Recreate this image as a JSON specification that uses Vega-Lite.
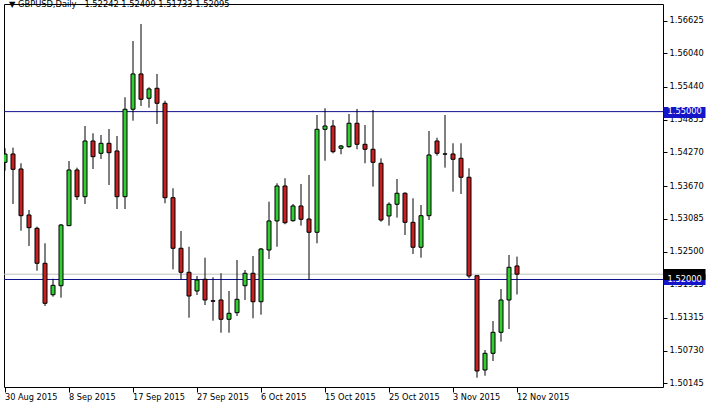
{
  "$schema": "https://vega.github.io/schema/vega-lite/v6.json",
  "autosize": "none",
  "padding": {"left": 4, "top": 4, "right": 45, "bottom": 20},
  "width": 659,
  "height": 383,
  "background": "white",
  "config": {"view": {"stroke": "black", "strokeWidth": 1}, "font": "DejaVu Sans"},
  "title": {
    "text": "▼ GBPUSD,Daily\u00a0\u00a0 1.52242 1.52409 1.51733 1.52095",
    "anchor": "start", "frame": "group", "orient": "top", "offset": 0,
    "baseline": "middle", "dy": 9, "dx": 5,
    "font": "DejaVu Sans", "fontSize": 8.3, "fontWeight": "normal", "color": "black"
  },
  "datasets": {
    "candles": [
      {"date": "2015-08-30", "open": 1.54094, "high": 1.54345, "low": 1.53944, "close": 1.54243},
      {"date": "2015-08-31", "open": 1.54243, "high": 1.54356, "low": 1.53349, "close": 1.53969},
      {"date": "2015-09-01", "open": 1.53975, "high": 1.54077, "low": 1.52872, "close": 1.53140},
      {"date": "2015-09-02", "open": 1.53153, "high": 1.53242, "low": 1.52599, "close": 1.52926},
      {"date": "2015-09-03", "open": 1.52915, "high": 1.52944, "low": 1.52157, "close": 1.52290},
      {"date": "2015-09-04", "open": 1.52290, "high": 1.52647, "low": 1.51527, "close": 1.51575},
      {"date": "2015-09-06", "open": 1.51728, "high": 1.52014, "low": 1.51693, "close": 1.51896},
      {"date": "2015-09-07", "open": 1.51889, "high": 1.52992, "low": 1.51675, "close": 1.52974},
      {"date": "2015-09-08", "open": 1.52962, "high": 1.54118, "low": 1.52955, "close": 1.53957},
      {"date": "2015-09-09", "open": 1.53957, "high": 1.53998, "low": 1.53421, "close": 1.53480},
      {"date": "2015-09-10", "open": 1.53480, "high": 1.54743, "low": 1.53349, "close": 1.54475},
      {"date": "2015-09-11", "open": 1.54475, "high": 1.54613, "low": 1.53975, "close": 1.54195},
      {"date": "2015-09-13", "open": 1.54255, "high": 1.54582, "low": 1.54154, "close": 1.54434},
      {"date": "2015-09-14", "open": 1.54434, "high": 1.54690, "low": 1.53689, "close": 1.54266},
      {"date": "2015-09-15", "open": 1.54297, "high": 1.54565, "low": 1.53260, "close": 1.53480},
      {"date": "2015-09-16", "open": 1.53480, "high": 1.55256, "low": 1.53260, "close": 1.55042},
      {"date": "2015-09-17", "open": 1.55042, "high": 1.56262, "low": 1.54838, "close": 1.55673},
      {"date": "2015-09-18", "open": 1.55673, "high": 1.56566, "low": 1.55101, "close": 1.55220},
      {"date": "2015-09-20", "open": 1.55238, "high": 1.55435, "low": 1.55070, "close": 1.55405},
      {"date": "2015-09-21", "open": 1.55417, "high": 1.55673, "low": 1.54779, "close": 1.55149},
      {"date": "2015-09-22", "open": 1.55149, "high": 1.55195, "low": 1.53362, "close": 1.53462},
      {"date": "2015-09-23", "open": 1.53462, "high": 1.53630, "low": 1.52182, "close": 1.52558},
      {"date": "2015-09-24", "open": 1.52558, "high": 1.52867, "low": 1.52000, "close": 1.52129},
      {"date": "2015-09-25", "open": 1.52129, "high": 1.52586, "low": 1.51317, "close": 1.51705},
      {"date": "2015-09-27", "open": 1.51795, "high": 1.52063, "low": 1.51723, "close": 1.51991},
      {"date": "2015-09-28", "open": 1.52004, "high": 1.52390, "low": 1.51544, "close": 1.51634},
      {"date": "2015-09-29", "open": 1.51620, "high": 1.52039, "low": 1.51264, "close": 1.51612},
      {"date": "2015-09-30", "open": 1.51634, "high": 1.52111, "low": 1.51049, "close": 1.51289},
      {"date": "2015-10-01", "open": 1.51289, "high": 1.51795, "low": 1.51049, "close": 1.51396},
      {"date": "2015-10-02", "open": 1.51407, "high": 1.52349, "low": 1.51348, "close": 1.51646},
      {"date": "2015-10-04", "open": 1.51889, "high": 1.52170, "low": 1.51634, "close": 1.52111},
      {"date": "2015-10-05", "open": 1.52111, "high": 1.52420, "low": 1.51307, "close": 1.51603},
      {"date": "2015-10-06", "open": 1.51603, "high": 1.52563, "low": 1.51371, "close": 1.52545},
      {"date": "2015-10-07", "open": 1.52527, "high": 1.53390, "low": 1.52366, "close": 1.53046},
      {"date": "2015-10-08", "open": 1.53046, "high": 1.53719, "low": 1.52586, "close": 1.53671},
      {"date": "2015-10-09", "open": 1.53671, "high": 1.53809, "low": 1.52987, "close": 1.53015},
      {"date": "2015-10-11", "open": 1.53051, "high": 1.53349, "low": 1.53033, "close": 1.53314},
      {"date": "2015-10-12", "open": 1.53314, "high": 1.53707, "low": 1.52962, "close": 1.53076},
      {"date": "2015-10-13", "open": 1.53081, "high": 1.53868, "low": 1.51991, "close": 1.52844},
      {"date": "2015-10-14", "open": 1.52844, "high": 1.54940, "low": 1.52647, "close": 1.54684},
      {"date": "2015-10-15", "open": 1.54684, "high": 1.55060, "low": 1.54123, "close": 1.54743},
      {"date": "2015-10-16", "open": 1.54743, "high": 1.54851, "low": 1.54255, "close": 1.54284},
      {"date": "2015-10-18", "open": 1.54345, "high": 1.54404, "low": 1.54238, "close": 1.54386},
      {"date": "2015-10-19", "open": 1.54373, "high": 1.54958, "low": 1.54356, "close": 1.54792},
      {"date": "2015-10-20", "open": 1.54792, "high": 1.55047, "low": 1.54327, "close": 1.54416},
      {"date": "2015-10-21", "open": 1.54416, "high": 1.54761, "low": 1.54077, "close": 1.54327},
      {"date": "2015-10-22", "open": 1.54327, "high": 1.55029, "low": 1.53659, "close": 1.54094},
      {"date": "2015-10-23", "open": 1.54077, "high": 1.54166, "low": 1.53033, "close": 1.53063},
      {"date": "2015-10-25", "open": 1.53135, "high": 1.53380, "low": 1.52962, "close": 1.53344},
      {"date": "2015-10-26", "open": 1.53344, "high": 1.53796, "low": 1.53105, "close": 1.53541},
      {"date": "2015-10-27", "open": 1.53541, "high": 1.53558, "low": 1.52795, "close": 1.53022},
      {"date": "2015-10-28", "open": 1.53022, "high": 1.53451, "low": 1.52456, "close": 1.52576},
      {"date": "2015-10-29", "open": 1.52576, "high": 1.53331, "low": 1.52390, "close": 1.53140},
      {"date": "2015-10-30", "open": 1.53140, "high": 1.54654, "low": 1.53063, "close": 1.54225},
      {"date": "2015-11-01", "open": 1.54475, "high": 1.54534, "low": 1.54213, "close": 1.54255},
      {"date": "2015-11-02", "open": 1.54245, "high": 1.54940, "low": 1.53998, "close": 1.54240},
      {"date": "2015-11-03", "open": 1.54243, "high": 1.54434, "low": 1.53569, "close": 1.54148},
      {"date": "2015-11-04", "open": 1.54166, "high": 1.54434, "low": 1.53528, "close": 1.53827},
      {"date": "2015-11-05", "open": 1.53827, "high": 1.53987, "low": 1.52022, "close": 1.52063},
      {"date": "2015-11-06", "open": 1.52068, "high": 1.52075, "low": 1.50245, "close": 1.50365},
      {"date": "2015-11-08", "open": 1.50383, "high": 1.50740, "low": 1.50281, "close": 1.50681},
      {"date": "2015-11-09", "open": 1.50681, "high": 1.51258, "low": 1.50544, "close": 1.51056},
      {"date": "2015-11-10", "open": 1.51056, "high": 1.51830, "low": 1.50889, "close": 1.51634},
      {"date": "2015-11-11", "open": 1.51634, "high": 1.52438, "low": 1.51115, "close": 1.52218},
      {"date": "2015-11-12", "open": 1.52242, "high": 1.52409, "low": 1.51733, "close": 1.52095}
    ],
    "levels": [
      {"price": 1.52095, "kind": "bid"},
      {"price": 1.55, "kind": "level"},
      {"price": 1.52, "kind": "level"}
    ]
  },
  "resolve": {"axis": {"y": "independent"}},
  "layer": [
    {
      "data": {"name": "levels"},
      "mark": {"type": "rule", "strokeWidth": 1},
      "encoding": {
        "y": {
          "field": "price", "type": "quantitative",
          "scale": {"domain": [1.50079, 1.56923], "zero": false, "nice": false},
          "axis": {
            "orient": "right", "values": [1.52095, 1.55, 1.52], "zindex": 2,
            "domain": false, "grid": false, "title": null,
            "tickSize": 42, "tickWidth": 11,
            "tickColor": {"condition": {"test": "datum.value == 1.52095", "value": "black"}, "value": "#1414c8"},
            "labelPadding": -38, "labelColor": "white", "labelFont": "DejaVu Sans", "labelFontSize": 8.3,
            "labelExpr": "datum.value == 1.52095 ? '' : format(datum.value, '.5f')",
            "labelOverlap": false, "labelBound": false, "labelFlush": false
          }
        },
        "color": {
          "field": "kind", "type": "nominal",
          "scale": {"domain": ["bid", "level"], "range": ["#c0c0c0", "#10108c"]},
          "legend": null
        }
      }
    },
    {
      "data": {"name": "candles"},
      "mark": {"type": "rule", "color": "black", "strokeWidth": 1, "clip": true},
      "encoding": {
        "x": {
          "field": "date", "type": "ordinal",
          "scale": {
            "type": "band", "paddingInner": 0, "paddingOuter": 0, "range": [-3, 661],
            "domain": ["2015-08-30","2015-08-31","2015-09-01","2015-09-02","2015-09-03","2015-09-04","2015-09-06","2015-09-07","2015-09-08","2015-09-09","2015-09-10","2015-09-11","2015-09-13","2015-09-14","2015-09-15","2015-09-16","2015-09-17","2015-09-18","2015-09-20","2015-09-21","2015-09-22","2015-09-23","2015-09-24","2015-09-25","2015-09-27","2015-09-28","2015-09-29","2015-09-30","2015-10-01","2015-10-02","2015-10-04","2015-10-05","2015-10-06","2015-10-07","2015-10-08","2015-10-09","2015-10-11","2015-10-12","2015-10-13","2015-10-14","2015-10-15","2015-10-16","2015-10-18","2015-10-19","2015-10-20","2015-10-21","2015-10-22","2015-10-23","2015-10-25","2015-10-26","2015-10-27","2015-10-28","2015-10-29","2015-10-30","2015-11-01","2015-11-02","2015-11-03","2015-11-04","2015-11-05","2015-11-06","2015-11-08","2015-11-09","2015-11-10","2015-11-11","2015-11-12","2015-11-13","2015-11-15","2015-11-16","2015-11-17","2015-11-18","2015-11-19","2015-11-20","2015-11-22","2015-11-23","2015-11-24","2015-11-25","2015-11-26","2015-11-27","2015-11-29","2015-11-30","2015-12-01","2015-12-02","2015-12-03"]
          },
          "axis": {
            "orient": "bottom", "title": null, "domain": false, "grid": false,
            "values": ["2015-08-30","2015-09-08","2015-09-17","2015-09-27","2015-10-06","2015-10-15","2015-10-25","2015-11-03","2015-11-12"],
            "labelExpr": "utcFormat(toDate(datum.value), '%-d %b %Y')",
            "tickSize": 5, "tickColor": "black", "labelAlign": "left", "labelBaseline": "middle",
            "labelPadding": 5, "labelDx": 1, "labelAngle": 0,
            "labelFont": "DejaVu Sans", "labelFontSize": 8.2, "labelColor": "black",
            "labelOverlap": false, "labelBound": false, "labelFlush": false
          }
        },
        "y": {
          "field": "low", "type": "quantitative",
          "axis": {
            "orient": "right", "zindex": 0, "title": null, "domain": false, "grid": false,
            "values": [1.56625, 1.5604, 1.5544, 1.54855, 1.5427, 1.5367, 1.53085, 1.525, 1.51915, 1.51315, 1.5073, 1.50145],
            "format": ".5f", "tickSize": 4, "tickColor": "black", "labelPadding": 2,
            "labelFont": "DejaVu Sans", "labelFontSize": 8.3, "labelColor": "black",
            "labelOverlap": false, "labelBound": false, "labelFlush": false
          }
        },
        "y2": {"field": "high"}
      }
    },
    {
      "data": {"name": "candles"},
      "mark": {"type": "bar", "size": 4, "stroke": "black", "strokeWidth": 1, "clip": true},
      "encoding": {
        "x": {"field": "date", "type": "ordinal"},
        "y": {"field": "open", "type": "quantitative", "axis": null},
        "y2": {"field": "close"},
        "fill": {"condition": {"test": "datum.close >= datum.open", "value": "#32cd32"}, "value": "#c82020"}
      }
    }
  ]
}
